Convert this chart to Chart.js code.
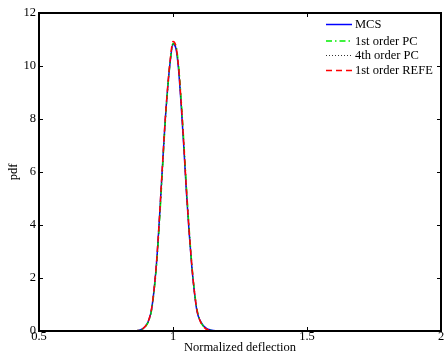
<!DOCTYPE html>
<html>
<head>
  <script src="https://cdn.jsdelivr.net/npm/chart.js"></script>
  <style>
    html, body { margin: 0; padding: 0; background: #fff; }
    #wrap { width: 444px; height: 358px; }
  </style>
</head>
<body>
  <div id="wrap"><canvas id="pdfCanvas" width="444" height="358"></canvas></div>

  <script>
    // Normalized deflection grid and pdf estimates
    var xValues = [0.85, 0.86, 0.87, 0.88, 0.89, 0.90, 0.91, 0.92, 0.93, 0.94, 0.95, 0.96, 0.97, 0.98, 0.99, 1.00, 1.01,
                   1.02, 1.03, 1.04, 1.05, 1.06, 1.07, 1.08, 1.09, 1.10, 1.11, 1.12, 1.13, 1.14, 1.15, 1.16, 1.17, 1.18];
    var mcsPdf  = [0, 0.01, 0.02, 0.05, 0.11, 0.22, 0.42, 0.82, 1.62, 2.75, 4.35, 6.1, 7.8, 9.15, 10.2, 10.82, 10.7,
                   9.95, 8.6, 7.0, 5.25, 3.75, 2.45, 1.45, 0.72, 0.42, 0.25, 0.14, 0.07, 0.04, 0.02, 0.01, 0.004, 0];
    var pc1Pdf  = [0, 0.01, 0.02, 0.04, 0.1, 0.2, 0.4, 0.78, 1.55, 2.65, 4.2, 5.95, 7.7, 9.1, 10.2, 10.85, 10.8,
                   10.1, 8.8, 7.2, 5.45, 3.9, 2.55, 1.5, 0.8, 0.42, 0.22, 0.11, 0.05, 0.02, 0.01, 0.005, 0, 0];
    var pc4Pdf  = [0, 0.01, 0.02, 0.05, 0.1, 0.21, 0.41, 0.8, 1.6, 2.72, 4.3, 6.05, 7.78, 9.15, 10.22, 10.86, 10.74,
                   10.0, 8.65, 7.05, 5.3, 3.8, 2.48, 1.46, 0.76, 0.42, 0.22, 0.11, 0.05, 0.02, 0.01, 0.005, 0, 0];
    var refePdf = [0, 0.01, 0.02, 0.05, 0.11, 0.22, 0.43, 0.84, 1.65, 2.8, 4.4, 6.15, 7.85, 9.2, 10.28, 10.92, 10.78,
                   10.05, 8.7, 7.1, 5.35, 3.82, 2.5, 1.47, 0.76, 0.41, 0.21, 0.1, 0.05, 0.02, 0.01, 0.005, 0, 0];

    var seriesLabels = ['MCS', '1st order PC', '4th order PC', '1st order REFE'];
    var xTicks = [0.5, 1, 1.5, 2];
    var yTicks = [0, 2, 4, 6, 8, 10, 12];

    var serif = '"Liberation Serif", "Times New Roman", serif';
    var fontSize = 12.5;

    function points(ys) {
      return xValues.map(function(x, i) { return { x: x, y: ys[i] }; });
    }

    // MATLAB-style box with inward ticks on all sides, plus the legend
    var matlabBox = {
      id: 'matlabBox',
      afterDraw: function(chart) {
        var ctx = chart.ctx, a = chart.chartArea;
        var xs = chart.scales.x, ys = chart.scales.y;
        ctx.save();
        ctx.strokeStyle = '#000';
        ctx.lineWidth = 1;
        ctx.beginPath();
        xTicks.forEach(function(v) {
          var px = Math.round(xs.getPixelForValue(v)) + 0.5;
          ctx.moveTo(px, a.bottom); ctx.lineTo(px, a.bottom - 4);
          ctx.moveTo(px, a.top); ctx.lineTo(px, a.top + 4);
        });
        yTicks.forEach(function(v) {
          var py = Math.round(ys.getPixelForValue(v)) + 0.5;
          ctx.moveTo(a.left, py); ctx.lineTo(a.left + 4, py);
          ctx.moveTo(a.right, py); ctx.lineTo(a.right - 4, py);
        });
        ctx.stroke();
        ctx.lineWidth = 2;
        ctx.strokeRect(a.left, a.top, a.right - a.left, a.bottom - a.top);

        // legend
        var styles = chart.data.datasets;
        var rowsY = [24.5, 41, 55.5, 70.5];
        ctx.font = fontSize + 'px ' + serif;
        ctx.textBaseline = 'middle';
        ctx.fillStyle = '#000';
        for (var i = 0; i < seriesLabels.length; i++) {
          var d = styles[i];
          ctx.beginPath();
          ctx.strokeStyle = d.borderColor;
          ctx.lineWidth = d.borderWidth;
          ctx.setLineDash(d.borderDash || []);
          ctx.moveTo(326, rowsY[i]);
          ctx.lineTo(352, rowsY[i]);
          ctx.stroke();
          ctx.setLineDash([]);
          ctx.fillText(seriesLabels[i], 355, rowsY[i] + 0.5);
        }
        ctx.restore();
      }
    };

    new Chart(document.getElementById('pdfCanvas'), {
      type: 'line',
      data: {
        datasets: [
          { label: seriesLabels[0], data: points(mcsPdf), borderColor: '#0000ff', borderWidth: 1.5, order: 3 },
          { label: seriesLabels[1], data: points(pc1Pdf), borderColor: '#00ee00', borderWidth: 1.5, borderDash: [6, 3, 1.5, 3], order: 2 },
          { label: seriesLabels[2], data: points(pc4Pdf), borderColor: '#333333', borderWidth: 1, borderDash: [1, 2], order: 1 },
          { label: seriesLabels[3], data: points(refePdf), borderColor: '#ff0000', borderWidth: 1.5, borderDash: [6, 4], order: 0 }
        ]
      },
      options: {
        responsive: false,
        animation: false,
        events: [],
        cubicInterpolationMode: 'monotone',
        elements: { point: { radius: 0 } },
        layout: { padding: { top: 13, right: 3, left: 0, bottom: 3 } },
        plugins: { legend: { display: false }, tooltip: { enabled: false } },
        scales: {
          x: {
            type: 'linear', min: 0.5, max: 2,
            grid: { display: false, drawTicks: false },
            border: { display: false },
            afterBuildTicks: function(s) { s.ticks = xTicks.map(function(v) { return { value: v }; }); },
            afterFit: function(s) { s.height = 24; },
            ticks: { color: '#000', padding: -2, maxRotation: 0, font: { family: serif, size: fontSize },
                     callback: function(v) { return String(v); } },
            title: { display: true, text: 'Normalized deflection', color: '#000', padding: 0, font: { family: serif, size: fontSize } }
          },
          y: {
            min: 0, max: 12,
            grid: { display: false, drawTicks: false },
            border: { display: false },
            afterBuildTicks: function(s) { s.ticks = yTicks.map(function(v) { return { value: v }; }); },
            afterFit: function(s) { s.width = 39; },
            ticks: { color: '#000', padding: 3, font: { family: serif, size: fontSize },
                     callback: function(v) { return String(v); } },
            title: { display: true, text: 'pdf', color: '#000', padding: { top: 6, bottom: 0 }, font: { family: serif, size: fontSize } }
          }
        }
      },
      plugins: [matlabBox]
    });
  </script>
</body>
</html>
